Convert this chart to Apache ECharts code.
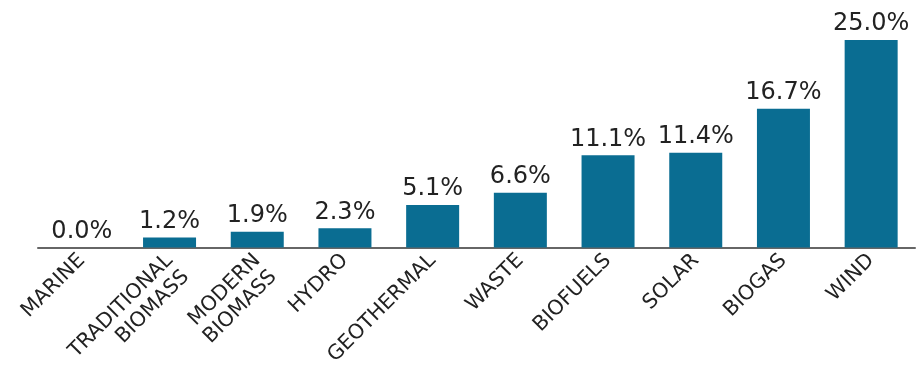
<!DOCTYPE html>
<html><head><meta charset="utf-8">
<script src="https://cdn.jsdelivr.net/npm/echarts@6/dist/echarts.min.js"></script>
<style>html,body{margin:0;padding:0;background:#fff}#c{width:916px;height:381px}</style>
</head><body><div id="c"></div>
<script>
const categories = ['MARINE','TRADITIONAL\nBIOMASS','MODERN\nBIOMASS','HYDRO','GEOTHERMAL','WASTE','BIOFUELS','SOLAR','BIOGAS','WIND'];
const values = [0.0, 1.2, 1.9, 2.3, 5.1, 6.6, 11.1, 11.4, 16.7, 25.0];
const yMax = 25;
const font = 'DejaVu Sans';
const chart = echarts.init(document.getElementById('c'));
chart.setOption({
  animation:false,
  grid:{left:38, right:1, top:40, bottom:133},
  xAxis:{type:'category', data:categories,
    axisLine:{lineStyle:{color:'#666', width:2}}, axisTick:{show:false},
    axisLabel:{rotate:45, margin:10, fontSize:20.5, color:'#222', fontFamily:font, interval:0, lineHeight:23, align:'right',
      // two-line labels: keep the first line where a single-line label sits
      formatter: v => v.indexOf('\n') >= 0 ? ' \n' + v : v}},
  yAxis:{type:'value', min:0, max:yMax, show:false, splitLine:{show:false}},
  series:[{type:'bar', data:values, barWidth:53, itemStyle:{color:'#0a6d92'},
    label:{show:true, position:'top', distance:4, fontSize:24, color:'#222', fontFamily:font,
      formatter:p=>p.value.toFixed(1)+'%'}}]
});
</script></body></html>
